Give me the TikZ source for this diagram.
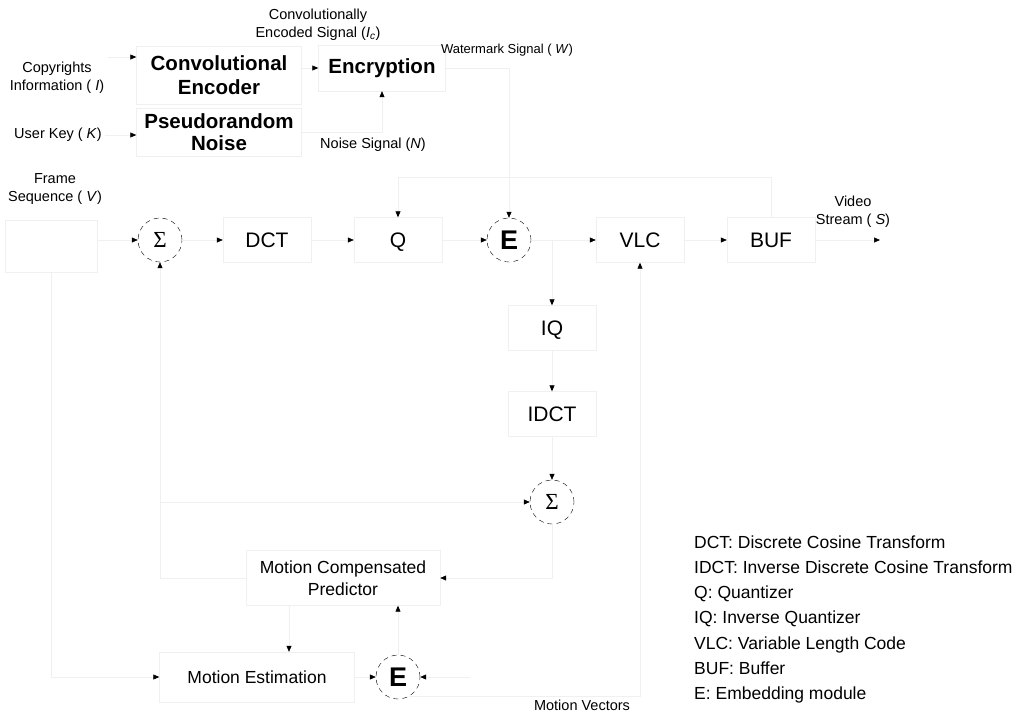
\documentclass[tikz,border=0pt]{standalone}
\usepackage{fontspec}
\setmainfont{Liberation Sans}
\newfontfamily\sigmafont{Liberation Serif}
\usetikzlibrary{arrows.meta}

\begin{document}
\begin{tikzpicture}[x=1pt, y=-1pt,
    line/.style={draw=black!6, line width=0.6pt},
    flow/.style={line, -{Triangle[length=6pt,width=5pt,color=black]}},
    block/.style={draw=black!6, minimum width=88pt, minimum height=45pt, text height=15pt, text depth=0pt, font=\fontsize{21}{25}\selectfont},
    title/.style={draw=black!6, align=center, minimum width=165pt, font=\fontsize{20.5}{22}\selectfont\bfseries},
    note/.style={align=center, font=\fontsize{14.5}{18}\selectfont},
    plus/.style={circle, draw, dash pattern=on 5pt off 4pt, line width=0.4pt, minimum size=44pt, inner sep=0pt},
    motion/.style={draw=black!6, align=center, font=\fontsize{17.5}{22}\selectfont}]
    \useasboundingbox (0,0) rectangle (1019,713);

    % watermark
    \node[note] (copyr) at (57,78) {Copyrights\\Information ( \textit{I})};
    \node[title, minimum height=58pt, font=\fontsize{20.5}{24}\selectfont\bfseries] (conv) at (219,75) {Convolutional\\Encoder};
    \node[note] (ic) at (318,25) {Convolutionally\\Encoded Signal (\textit{I}\textsubscript{\textit{c}})};
    \node[title, minimum width=127pt, minimum height=46pt] (encr) at (382,68) {Encryption};
    \node[note, font=\fontsize{13}{16}\selectfont] (wm) at (507,50) {Watermark Signal ( \textit{W})};
    \node[note] (ukey) at (58,135) {User Key ( \textit{K})};
    \node[title, minimum height=48pt] (pseudo) at (219,132) {Pseudorandom\\Noise};
    \node[note] (ns) at (373,145) {Noise Signal (\textit{N})};

    % coder
    \node[note] (fsl) at (55,189) {Frame\\Sequence ( \textit{V})};
    \node[draw=black!6, minimum width=92pt, minimum height=52pt] (frames) at (51,246) {};
    \node[plus] (sum1) at (160,240) {\sigmafont\fontsize{23}{23}\selectfont Σ};
    \node[block] (dct) at (267,240) {DCT};
    \node[block] (q) at (398,240) {Q};
    \node[plus] (e1) at (509,240) {\fontsize{27}{27}\selectfont\bfseries E};
    \node[block] (vlc) at (640,240) {VLC};
    \node[block] (buf) at (771,240) {BUF};
    \node[note] (vs) at (853,212) {Video\\Stream ( \textit{S})};
    \coordinate (out) at (880,240);
    \node[block] (iq) at (552,328) {IQ};
    \node[block] (idct) at (552,414) {IDCT};
    \node[plus] (sum2) at (552,502) {\sigmafont\fontsize{23}{23}\selectfont Σ};
    \node[motion, minimum width=194pt, minimum height=55pt] (mcp) at (343,578) {Motion Compensated\\Predictor};
    \node[motion, minimum width=195pt, minimum height=50pt] (me) at (257,677) {Motion Estimation};
    \node[plus] (e2) at (398,677) {\fontsize{27}{27}\selectfont\bfseries E};
    \node[note] (mv) at (582,705) {Motion Vectors};
    \coordinate (cin) at ([yshift=21pt]copyr.east);
    \coordinate (meIn) at ([xshift=32pt]me.north);
    \coordinate (wm2) at (470,677);

    \node[anchor=north west, inner sep=0pt, align=left, font=\fontsize{17.5}{25.2}\selectfont] (legend) at (694,535.5)
        {DCT: Discrete Cosine Transform\\IDCT: Inverse Discrete Cosine Transform\\Q: Quantizer\\IQ: Inverse Quantizer\\VLC: Variable Length Code\\BUF: Buffer\\E: Embedding module};

    \draw[flow] (cin) -- (cin -| conv.west);
    \draw[flow] (conv.east |- encr.west) -- (encr.west);
    \draw[flow] (ukey.east) -- (ukey.east -| pseudo.west);
    \draw[flow] (pseudo.east) -| (encr.south);
    \draw[flow] (encr.east) -| (e1.north);

    \draw[flow] (frames.east |- sum1.west) -- (sum1.west);
    \draw[flow] (sum1) -- (dct);
    \draw[flow] (dct) -- (q);
    \draw[flow] (q) -- (e1);
    \draw[flow] (e1) -- (vlc);
    \draw[flow] (vlc) -- (buf);
    \draw[flow] (buf) -- (out);
    \draw[flow] (buf.north) -- ++(0,-40) -| (q.north);
    \draw[flow] (e1.east -| iq) -- (iq);
    \draw[flow] (iq) -- (idct);
    \draw[flow] (idct) -- (sum2);
    \draw[flow] (sum2.south) |- (mcp.east);
    \draw[flow] (mcp.west) -| (sum1.south);
    \draw[flow] (sum2.west -| sum1.south) -- (sum2.west);
    \draw[flow] (mcp.south -| meIn) -- (meIn);
    \draw[flow] (frames.south) |- (me.west);
    \draw[flow] (me) -- (e2);
    \draw[flow] (e2) -- (e2 |- mcp.south);
    \draw[flow] (wm2) -- (e2);
    \draw[flow] (e2.-60) -| (vlc.south);
\end{tikzpicture}
\end{document}
